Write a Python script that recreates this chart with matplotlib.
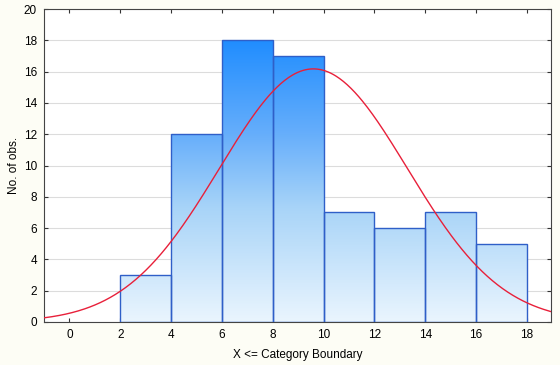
import numpy as np
import matplotlib
matplotlib.use("Agg")
import matplotlib.pyplot as plt
from matplotlib.colors import LinearSegmentedColormap
from matplotlib.patches import Rectangle

# Data
bin_edges = [2, 4, 6, 8, 10, 12, 14, 16, 18]
counts = [3, 12, 18, 17, 7, 6, 7, 5]
fit_mean = 9.6
fit_sd = 3.7
x_ticks = [0, 2, 4, 6, 8, 10, 12, 14, 16, 18]
y_ticks = [0, 2, 4, 6, 8, 10, 12, 14, 16, 18, 20]

plt.rcParams['font.family'] = ['Liberation Sans', 'DejaVu Sans']

fig = plt.figure(figsize=(5.6, 3.65), dpi=100, facecolor='#fdfdf5')
ax = fig.add_axes([44/560, 1-322/365, (551-44)/560, (322-9)/365])
ax.set_facecolor('white')
ax.set_xlim(-1, 18.95)
ax.set_ylim(0, 20)

cmap = LinearSegmentedColormap.from_list(
    'g', [(0.0, '#eaf5fe'), (0.4, '#a8d4f8'), (0.66, '#66aefb'), (1.0, '#1e8cff')])
grad = np.linspace(0, 1, 256).reshape(-1, 1)

n_total = sum(counts)
for i, c in enumerate(counts):
    x0, x1 = bin_edges[i], bin_edges[i + 1]
    rect = Rectangle((x0, 0), x1 - x0, c, facecolor='none', edgecolor='#2f5fc8', lw=1.0, zorder=3)
    ax.add_patch(rect)
    im = ax.imshow(grad, cmap=cmap, aspect='auto', origin='lower',
                   extent=[x0, x1, 0, 18.2], zorder=2, interpolation='bilinear')
    im.set_clip_path(rect)

bw = bin_edges[1] - bin_edges[0]
xs = np.linspace(-1, 19, 400)
ys = n_total * bw / (fit_sd * np.sqrt(2 * np.pi)) * np.exp(-(xs - fit_mean) ** 2 / (2 * fit_sd ** 2))
ax.plot(xs, ys, color='#e8203a', lw=1.0, zorder=4)

ax.set_xticks(x_ticks)
ax.set_yticks(y_ticks)
ax.yaxis.grid(True, color='#dcdcdc', lw=0.8, zorder=0)
ax.set_axisbelow(True)
ax.tick_params(direction='in', length=3, labelsize=8.5, color='#333333',
               top=True, right=True, pad=5)
for s in ax.spines.values():
    s.set_color('#444444')
    s.set_linewidth(0.8)
ax.set_xlabel('X <= Category Boundary', fontsize=8.5, labelpad=6)
ax.set_ylabel('No. of obs.', fontsize=8.5, labelpad=3)

fig.savefig('out.png', dpi=100, facecolor=fig.get_facecolor())
